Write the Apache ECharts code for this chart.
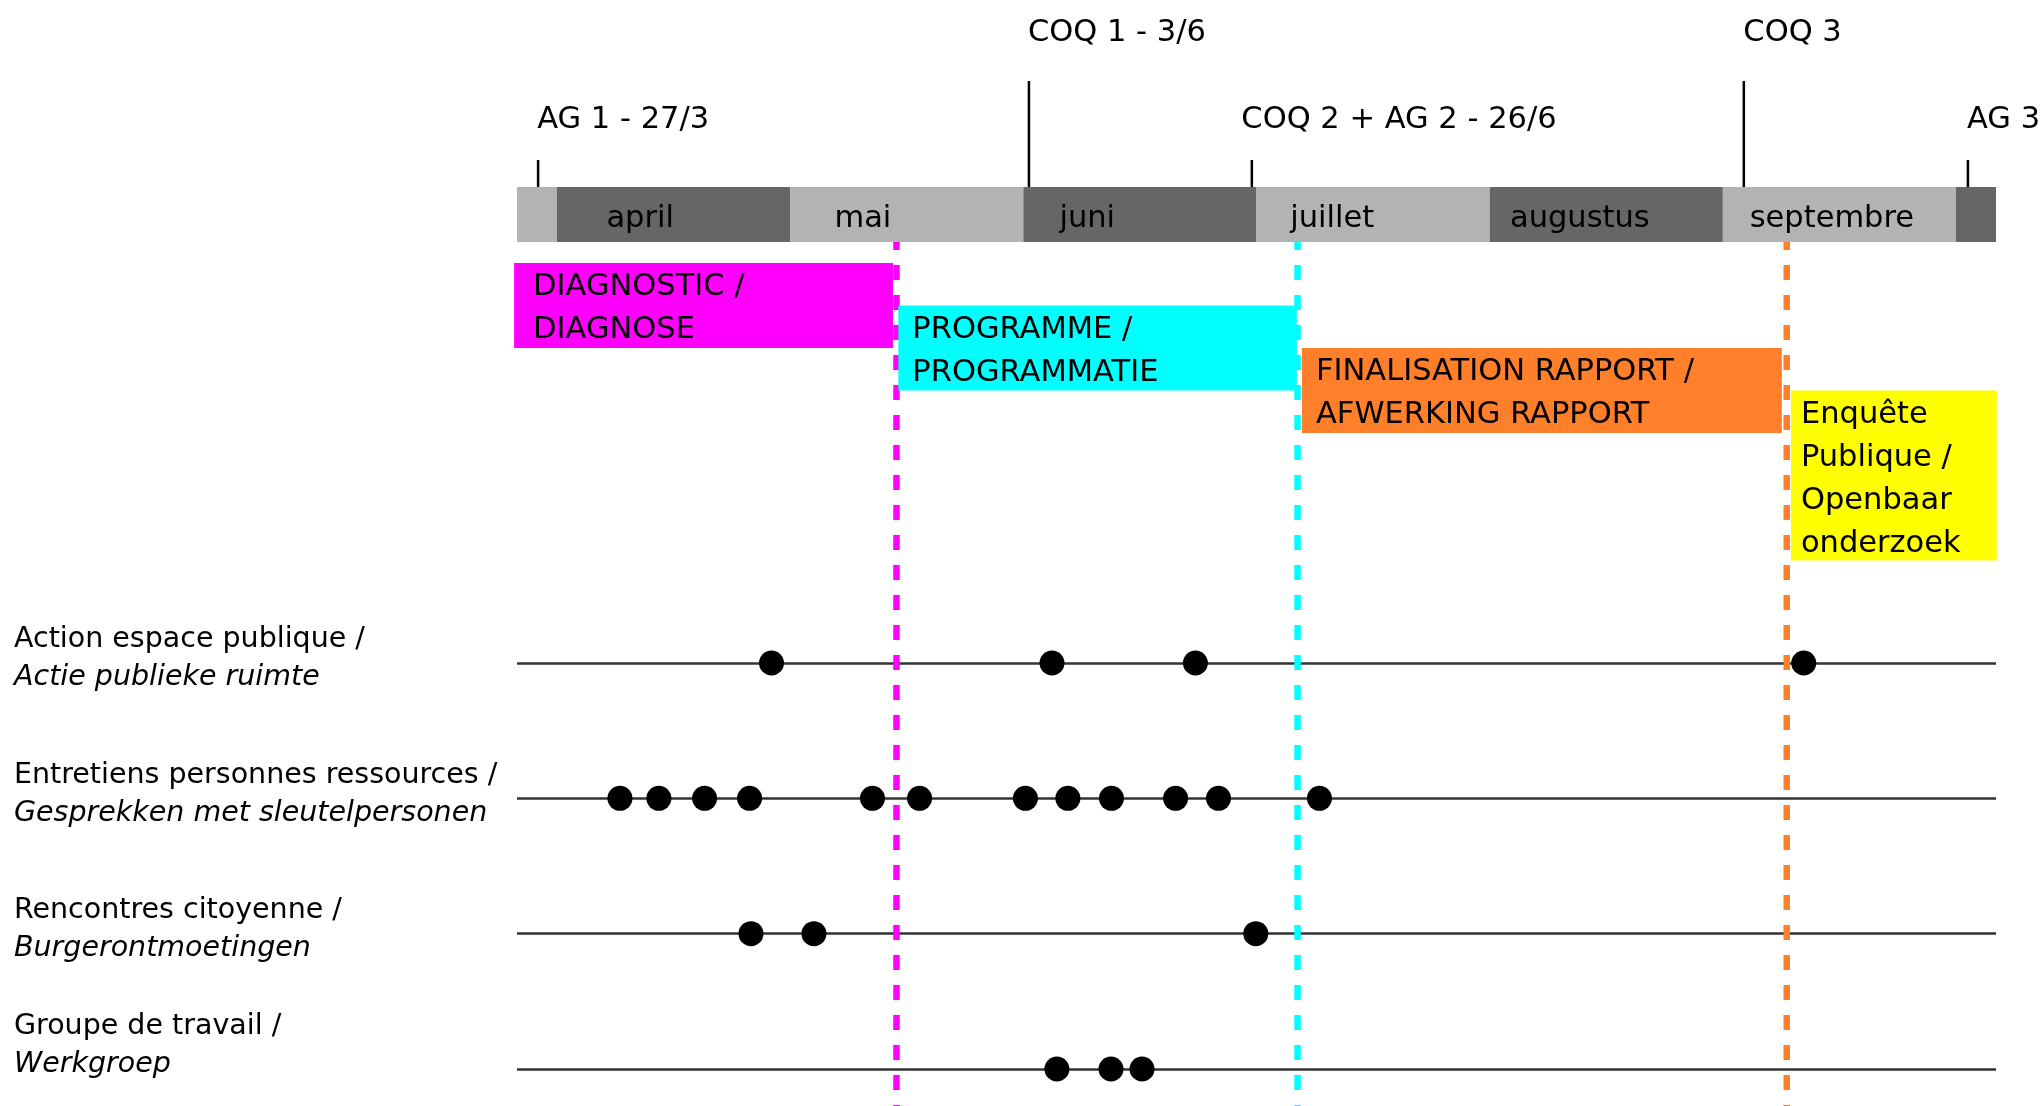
<!DOCTYPE html>
<html><head><meta charset="utf-8">
<script src="https://cdn.jsdelivr.net/npm/echarts@6/dist/echarts.min.js"></script>
<style>html,body{margin:0;padding:0;background:#fff}#c{width:2042px;height:1106px}</style>
</head><body><div id="c"></div><script>
// x values are in months counted from 1 April (0 = 1 April, 1 = 1 May, ...)
const monthNames = ['', 'april', 'mai', 'juni', 'juillet', 'augustus', 'septembre', ''];
const monthStart = [-0.1715, 0, 1, 2, 3, 4, 5, 6];
const monthEnd = [0, 1, 2, 3, 4, 5, 6, 6.1715];
const monthShade = ['light', 'dark', 'light', 'dark', 'light', 'dark', 'light', 'dark'];
const monthLabelAt = [null, 0.212, 1.19, 2.155, 3.145, 4.087, 5.115, null];

const eventLabels = ['AG 1 - 27/3', 'COQ 1 - 3/6', 'COQ 2 + AG 2 - 26/6', 'COQ 3', 'AG 3'];
const eventAt = [-0.081, 2.024, 2.980, 5.090, 6.051];
const eventLabelAt = [-0.085, 2.020, 2.935, 5.088, 6.047];
const eventTier = [1, 2, 1, 2, 1];

const phaseLabels = ['DIAGNOSTIC /\nDIAGNOSE', 'PROGRAMME /\nPROGRAMMATIE', 'FINALISATION RAPPORT /\nAFWERKING RAPPORT', 'Enquête\nPublique /\nOpenbaar\nonderzoek'];
const phaseStart = [-0.184, 1.464, 3.195, 5.292];
const phaseEnd = [1.441, 3.173, 5.253, 6.175];
const phaseColors = ['#ff00ff', '#00ffff', '#ff7f2a', '#ffff00'];

const cutoffAt = [1.456, 3.176, 5.274];
const cutoffColors = ['#ff00ff', '#00ffff', '#ff7f2a'];

const activityFr = ['Action espace publique /', 'Entretiens personnes ressources /', 'Rencontres citoyenne /', 'Groupe de travail /'];
const activityNl = ['Actie publieke ruimte', 'Gesprekken met sleutelpersonen', 'Burgerontmoetingen', 'Werkgroep'];
const dotsAction = [0.920, 2.123, 2.738, 5.347];
const dotsEntretiens = [0.270, 0.437, 0.633, 0.826, 1.353, 1.555, 2.009, 2.191, 2.378, 2.653, 2.837, 3.270];
const dotsRencontres = [0.832, 1.102, 2.997];
const dotsGroupe = [2.144, 2.376, 2.509];

const FONT = '"DejaVu Sans", "Noto Sans", sans-serif';
const X_MIN = -0.1715, X_MAX = 6.1715;
const GL = 517, GW = 1479;
const HEAD_TOP = 187, HEAD_H = 55;
const PHASE_TOP = 263, PHASE_UNIT = 42.5, PHASE_MAXU = 7;
const ACT_TOP = 663, ACT_H = 406;
const PHASE_PAD = [19, 14, 14, 10];

const chart = echarts.init(document.getElementById('c'), null, {renderer: 'canvas'});

function xAx(i) {
  return {type: 'value', gridIndex: i, min: X_MIN, max: X_MAX, show: false};
}

const dotSeries = [dotsAction, dotsEntretiens, dotsRencontres, dotsGroupe].map((arr, r) => ({
  type: 'scatter', xAxisIndex: 2, yAxisIndex: 2, z: 6,
  symbol: 'circle', symbolSize: 25,
  itemStyle: {color: '#000', opacity: 1},
  data: arr.map(v => [v, r]),
  silent: true
}));

const option = {
  animation: false,
  backgroundColor: '#fff',
  grid: [
    {left: GL, top: HEAD_TOP, width: GW, height: HEAD_H, containLabel: false, outerBoundsMode: 'none'},
    {left: GL, top: PHASE_TOP, width: GW, height: PHASE_UNIT * PHASE_MAXU, containLabel: false, outerBoundsMode: 'none'},
    {left: GL, top: ACT_TOP, width: GW, height: ACT_H, containLabel: false, outerBoundsMode: 'none'}
  ],
  xAxis: [xAx(0), xAx(1), xAx(2)],
  yAxis: [
    {type: 'value', gridIndex: 0, min: 0, max: 1, show: false},
    {type: 'value', gridIndex: 1, min: 0, max: PHASE_MAXU, inverse: true, show: false},
    {
      type: 'value', gridIndex: 2, min: 0, max: 3, interval: 1, inverse: true,
      axisLine: {show: false}, axisTick: {show: false},
      splitLine: {show: true, lineStyle: {color: '#333', width: 2.5}},
      axisLabel: {
        show: true, align: 'left', margin: GL - 14, verticalAlign: 'middle',
        padding: [0, 0, 8, 0],
        formatter: v => '{a|' + activityFr[v] + '}\n{b|' + activityNl[v] + '}' + (v === 3 ? '\n{a| }' : ''),
        rich: {
          a: {fontFamily: FONT, fontSize: 28.5, color: '#000', lineHeight: 38},
          b: {fontFamily: FONT, fontSize: 28.5, fontStyle: 'italic', color: '#000', lineHeight: 38}
        }
      }
    }
  ],
  series: [
    // month band
    {
      type: 'custom', xAxisIndex: 0, yAxisIndex: 0, z: 2, clip: false, silent: true,
      data: monthStart.map((s, i) => [s, monthEnd[i]]),
      renderItem: (params, api) => {
        const i = params.dataIndex;
        const p0 = api.coord([api.value(0), 1]);
        const p1 = api.coord([api.value(1), 0]);
        const children = [{
          type: 'rect',
          shape: {x: p0[0], y: p0[1], width: p1[0] - p0[0], height: p1[1] - p0[1]},
          style: {fill: monthShade[i] === 'dark' ? '#666666' : '#b3b3b3'}
        }];
        if (monthNames[i]) {
          const t = api.coord([monthLabelAt[i], 0.5]);
          children.push({
            type: 'text',
            style: {text: monthNames[i], x: t[0], y: t[1] + 4.5, fill: '#000',
              fontFamily: FONT, fontSize: 30.5, align: 'left', verticalAlign: 'middle'}
          });
        }
        return {type: 'group', children};
      }
    },
    // milestones above the band
    {
      type: 'custom', xAxisIndex: 0, yAxisIndex: 0, z: 2, clip: false, silent: true,
      data: eventAt.map((v, i) => [v, eventTier[i], eventLabelAt[i]]),
      renderItem: (params, api) => {
        const i = params.dataIndex;
        const p = api.coord([api.value(0), 1]);
        const lp = api.coord([api.value(2), 1]);
        const tier = api.value(1);
        const len = tier === 2 ? 106 : 27;
        const base = tier === 2 ? 143 : 56;
        return {type: 'group', children: [
          {type: 'line', shape: {x1: p[0], y1: p[1], x2: p[0], y2: p[1] - len},
            style: {stroke: '#000', lineWidth: 2.5}},
          {type: 'text', style: {text: eventLabels[i], x: lp[0], y: p[1] - base - 10.5,
            fill: '#000', fontFamily: FONT, fontSize: 30.5, align: 'left', verticalAlign: 'middle'}}
        ]};
      }
    },
    // dashed phase cut-off lines
    {
      type: 'custom', xAxisIndex: 1, yAxisIndex: 1, z: 3, clip: false, silent: true,
      data: cutoffAt.map(v => [v, 0]),
      renderItem: (params, api) => {
        const x = api.coord([api.value(0), 0])[0];
        return {type: 'line',
          shape: {x1: x, y1: HEAD_TOP + HEAD_H, x2: x, y2: api.getHeight()},
          style: {stroke: cutoffColors[params.dataIndex], lineWidth: 6.5, lineDash: [15, 15], lineDashOffset: 7}};
      }
    },
    // phase boxes
    {
      type: 'custom', xAxisIndex: 1, yAxisIndex: 1, z: 4, clip: false, silent: true,
      data: phaseStart.map((s, i) => [s, phaseEnd[i], i, phaseLabels[i].split('\n').length]),
      renderItem: (params, api) => {
        const i = params.dataIndex;
        const lvl = api.value(2), n = api.value(3);
        const p0 = api.coord([api.value(0), lvl]);
        const p1 = api.coord([api.value(1), lvl + n]);
        return {type: 'group', children: [
          {type: 'rect', shape: {x: p0[0], y: p0[1], width: p1[0] - p0[0], height: p1[1] - p0[1]},
            style: {fill: phaseColors[i]}},
          {type: 'text', style: {text: phaseLabels[i], x: p0[0] + PHASE_PAD[i], y: p0[1] + 3, fill: '#000',
            fontFamily: FONT, fontSize: 30.5, lineHeight: 43, align: 'left', verticalAlign: 'top'}}
        ]};
      }
    }
  ].concat(dotSeries)
};
chart.setOption(option);
</script></body></html>
